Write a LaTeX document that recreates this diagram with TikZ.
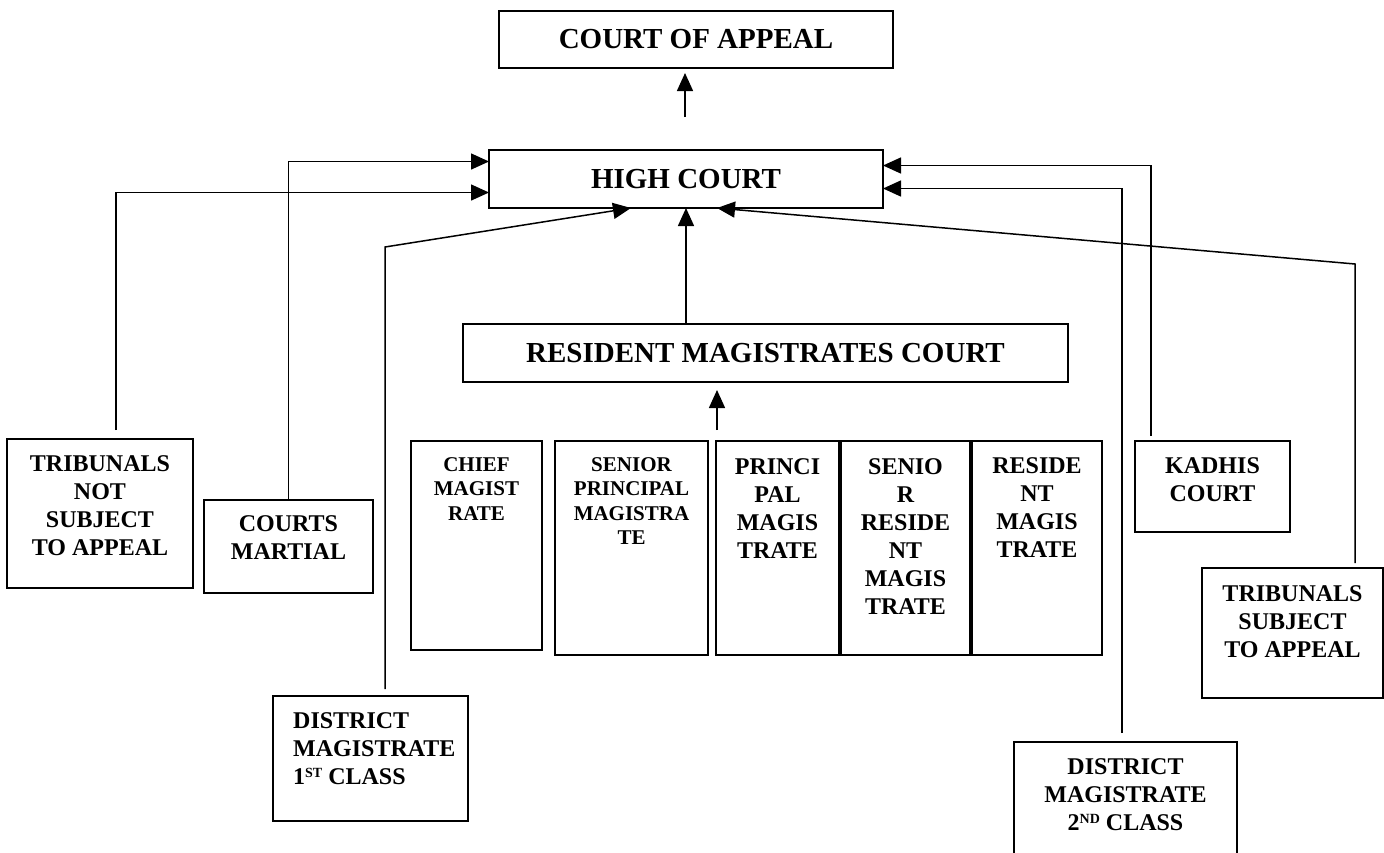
\documentclass[tikz,border=0pt]{standalone}
\usepackage{fontspec}
\setmainfont{Liberation Serif}
\usetikzlibrary{arrows.meta,calc}
\tikzset{
  box/.style={draw=black, line width=1.6pt, inner sep=0pt, outer sep=0pt, anchor=north west},
  bigtxt/.style={font=\bfseries\fontsize{29}{33}\selectfont},
  txt/.style={font=\bfseries\fontsize{24}{28}\selectfont, align=center, inner sep=0pt, anchor=north},
  stxt/.style={font=\bfseries\fontsize{21}{24.5}\selectfont, align=center, inner sep=0pt, anchor=north},
  conn/.style={line width=1.5pt, draw=black},
  arr/.style={conn, -{Triangle[length=18pt,width=16pt]}},
}
\newcommand{\supr}[1]{\raisebox{7pt}{\fontsize{14}{14}\selectfont #1}}
\begin{document}
\begin{tikzpicture}[x=1pt,y=-1pt]
\fill[white] (0,0) rectangle (1384,852);
\useasboundingbox (0,0) rectangle (1384,852);

% main boxes
\node[box, bigtxt, minimum width=394pt, minimum height=57pt] (coa) at (499,11) {COURT OF APPEAL};
\node[box, bigtxt, minimum width=394pt, minimum height=58pt] (hc) at (489,150) {HIGH COURT};
\node[box, bigtxt, minimum width=605pt, minimum height=58pt] (rmc) at (463,324) {RESIDENT MAGISTRATES COURT};

% side boxes
\node[box, minimum width=186pt, minimum height=149pt] (tns) at (7,439) {};
\node[txt] (tnsx) at ([yshift=-16pt]tns.north) {TRIBUNALS\\NOT\\SUBJECT\\TO APPEAL};
\node[box, minimum width=169pt, minimum height=93pt] (cm) at (204,500) {};
\node[txt] (cmx) at ([yshift=-15pt]cm.north) {COURTS\\MARTIAL};
\node[box, minimum width=195pt, minimum height=125pt] (dma) at (273,696) {};
\node[txt, align=left, anchor=north west] (dmax) at ([xshift=20pt,yshift=-16pt]dma.north west) {DISTRICT\\MAGISTRATE\\1\supr{ST} CLASS};
\node[box, minimum width=155pt, minimum height=91pt] (kc) at (1135,441) {};
\node[txt] (kcx) at ([yshift=-16pt]kc.north) {KADHIS\\COURT};
\node[box, minimum width=181pt, minimum height=130pt] (tsa) at (1202,568) {};
\node[txt] (tsax) at ([yshift=-17pt]tsa.north) {TRIBUNALS\\SUBJECT\\TO APPEAL};
\node[box, minimum width=223pt, minimum height=140pt] (dmb) at (1014,742) {};
\node[txt] (dmbx) at ([yshift=-16pt]dmb.north) {DISTRICT\\MAGISTRATE\\2\supr{ND} CLASS};

% magistrate row
\node[box, minimum width=131pt, minimum height=209pt] (chief) at (411,441) {};
\node[stxt] (chiefx) at ([yshift=-16pt]chief.north) {CHIEF\\MAGIST\\RATE};
\node[box, minimum width=153pt, minimum height=214pt] (spm) at (555,441) {};
\node[stxt] (spmx) at ([yshift=-16pt]spm.north) {SENIOR\\PRINCIPAL\\MAGISTRA\\TE};
\node[box, minimum width=123pt, minimum height=214pt] (pm) at (716,441) {};
\node[txt] (pmx) at ([yshift=-17pt]pm.north) {PRINCI\\PAL\\MAGIS\\TRATE};
\node[box, minimum width=129pt, minimum height=214pt] (srm) at (841,441) {};
\node[txt] (srmx) at ([yshift=-17pt]srm.north) {SENIO\\R\\RESIDE\\NT\\MAGIS\\TRATE};
\node[box, minimum width=130pt, minimum height=214pt] (rm) at (972,441) {};
\node[txt] (rmx) at ([yshift=-16pt]rm.north) {RESIDE\\NT\\MAGIS\\TRATE};

% free connector ends
\coordinate (coaA) at (685,117);
\coordinate (coaB) at (685,73);
\coordinate (subA) at (717,430);
\coordinate (subB) at (717,390);
\coordinate (tnsT) at (116,430);
\coordinate (dmaT) at (385,689);
\coordinate (dmaB) at (385,247);
\coordinate (kcT) at (1151,436);
\coordinate (dmbT) at (1122,733);
\coordinate (tsaT) at (1355,563);
\coordinate (tsaB) at (1355,264);

% connectors
\draw[arr] (coaA) -- (coaB);
\draw[arr] (rmc.north -| hc.south) -- (hc.south);
\draw[arr] (subA) -- (subB);
\draw[arr] (tnsT) |- ([yshift=-13.5pt]hc.west);
\draw[arr] (cm.north) |- ([yshift=17.5pt]hc.west);
\draw[arr] (dmaT) -- (dmaB) -- ([xshift=-55pt]hc.south);
\draw[arr] (kcT) |- ([yshift=13.5pt]hc.east);
\draw[arr] (dmbT) |- ([yshift=-9.5pt]hc.east);
\draw[arr] (tsaT) -- (tsaB) -- ([xshift=31pt]hc.south);
\end{tikzpicture}
\end{document}
